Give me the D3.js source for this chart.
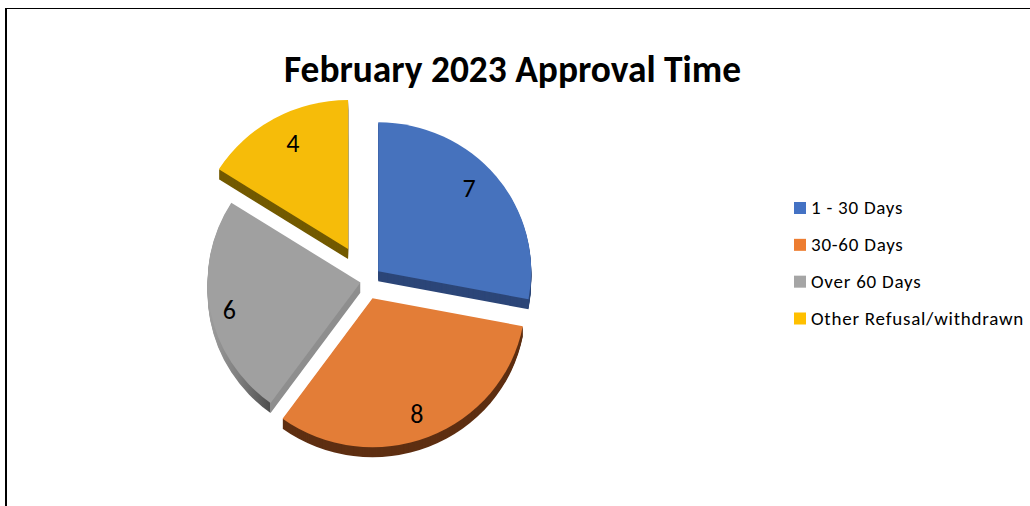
<!DOCTYPE html>
<html>
<head>
<meta charset="utf-8">
<script src="https://cdn.jsdelivr.net/npm/d3@7"></script>
<style>
html,body{margin:0;padding:0;background:#fff;overflow:hidden}
svg{display:block}
text{font-family:Carlito,Lato,"Open Sans",sans-serif;fill:#000}
</style>
</head>
<body>
<svg id="chart" width="1030" height="506"></svg>
<script>
const title = "February 2023 Approval Time";
const categories = ["1 - 30 Days", "30-60 Days", "Over 60 Days", "Other Refusal/withdrawn"];
const values = [7, 8, 6, 4];
const legendColors = ["#4472C4", "#ED7D31", "#A5A5A5", "#FFC000"];
const faceColors = ["#4672BD", "#E37D37", "#A0A0A0", "#F6BC09"];
const wallColors = ["#2C4678", "#5E2F12", "#8E8E8E", "#735A00"];
const explode = [16, 18, 5.5, 37];
const labelAngle = [47.6, 159, 258, 332.6];
const labelRadius = [123, 124, 134, 120];

const W = 1030, H = 506;
const cx = 365.9, cy = 281.5, R = 149, xStretch = 153 / 149, depth = 10;

const svg = d3.select("#chart");

// page frame
svg.append("path").attr("d", `M5,8.5H${W}`).attr("fill", "none").attr("stroke", "#000").attr("stroke-width", 1);
svg.append("rect").attr("x", 5).attr("y", 8).attr("width", 2).attr("height", H - 8).attr("fill", "#000");

svg.append("text").attr("x", 512.5).attr("y", 82).attr("text-anchor", "middle")
  .attr("font-size", 37.4).attr("font-weight", 700).text(title);

const defs = svg.append("defs");
const grayRim = defs.append("linearGradient").attr("id", "grayRim")
  .attr("gradientUnits", "userSpaceOnUse").attr("x1", -150).attr("x2", 0).attr("y1", 0).attr("y2", 0);
[[0, "#A0A0A0"], [0.2, "#808080"], [0.41, "#4F4F4F"], [0.415, "#8E8E8E"], [1, "#8E8E8E"]]
  .forEach(([o, c]) => grayRim.append("stop").attr("offset", o).attr("stop-color", c));

const pie = d3.pie().sort(null).value(d => d);
const arcs = pie(values);
const arc = d3.arc().innerRadius(0).outerRadius(R);

const slices = svg.append("g").selectAll("g").data(arcs).join("g")
  .attr("transform", (d, i) => {
    const mid = (d.startAngle + d.endAngle) / 2;
    const x = cx + explode[i] * Math.sin(mid);
    const y = cy - explode[i] * Math.cos(mid);
    return `translate(${x},${y})`;
  });

slices.each(function (d, i) {
  const g = d3.select(this);
  const wall = i === 2 ? "url(#grayRim)" : wallColors[i];
  d3.range(depth, 0, -1).forEach(k => {
    g.append("path")
      .attr("d", arc(d))
      .attr("transform", `translate(0,${k}) scale(${xStretch},1)`)
      .attr("fill", wall);
  });
  g.append("path")
    .attr("d", arc(d))
    .attr("transform", `scale(${xStretch},1)`)
    .attr("fill", faceColors[i]);
  const a = labelAngle[i] * Math.PI / 180;
  g.append("text")
    .attr("x", labelRadius[i] * Math.sin(a))
    .attr("y", -labelRadius[i] * Math.cos(a))
    .attr("text-anchor", "middle").attr("dominant-baseline", "central")
    .attr("font-size", 26).text(values[i]);
});

const legendY = d3.scalePoint().domain(categories).range([208, 318.5]);
const legend = svg.append("g").selectAll("g").data(categories).join("g")
  .attr("transform", d => `translate(794,${legendY(d)})`);
legend.append("rect").attr("x", 0).attr("y", -6).attr("width", 12).attr("height", 12)
  .attr("fill", (d, i) => legendColors[i]);
legend.append("text").attr("x", 17).attr("y", 6).attr("font-size", 19)
  .attr("letter-spacing", 0.76).text(d => d);
</script>
</body>
</html>
